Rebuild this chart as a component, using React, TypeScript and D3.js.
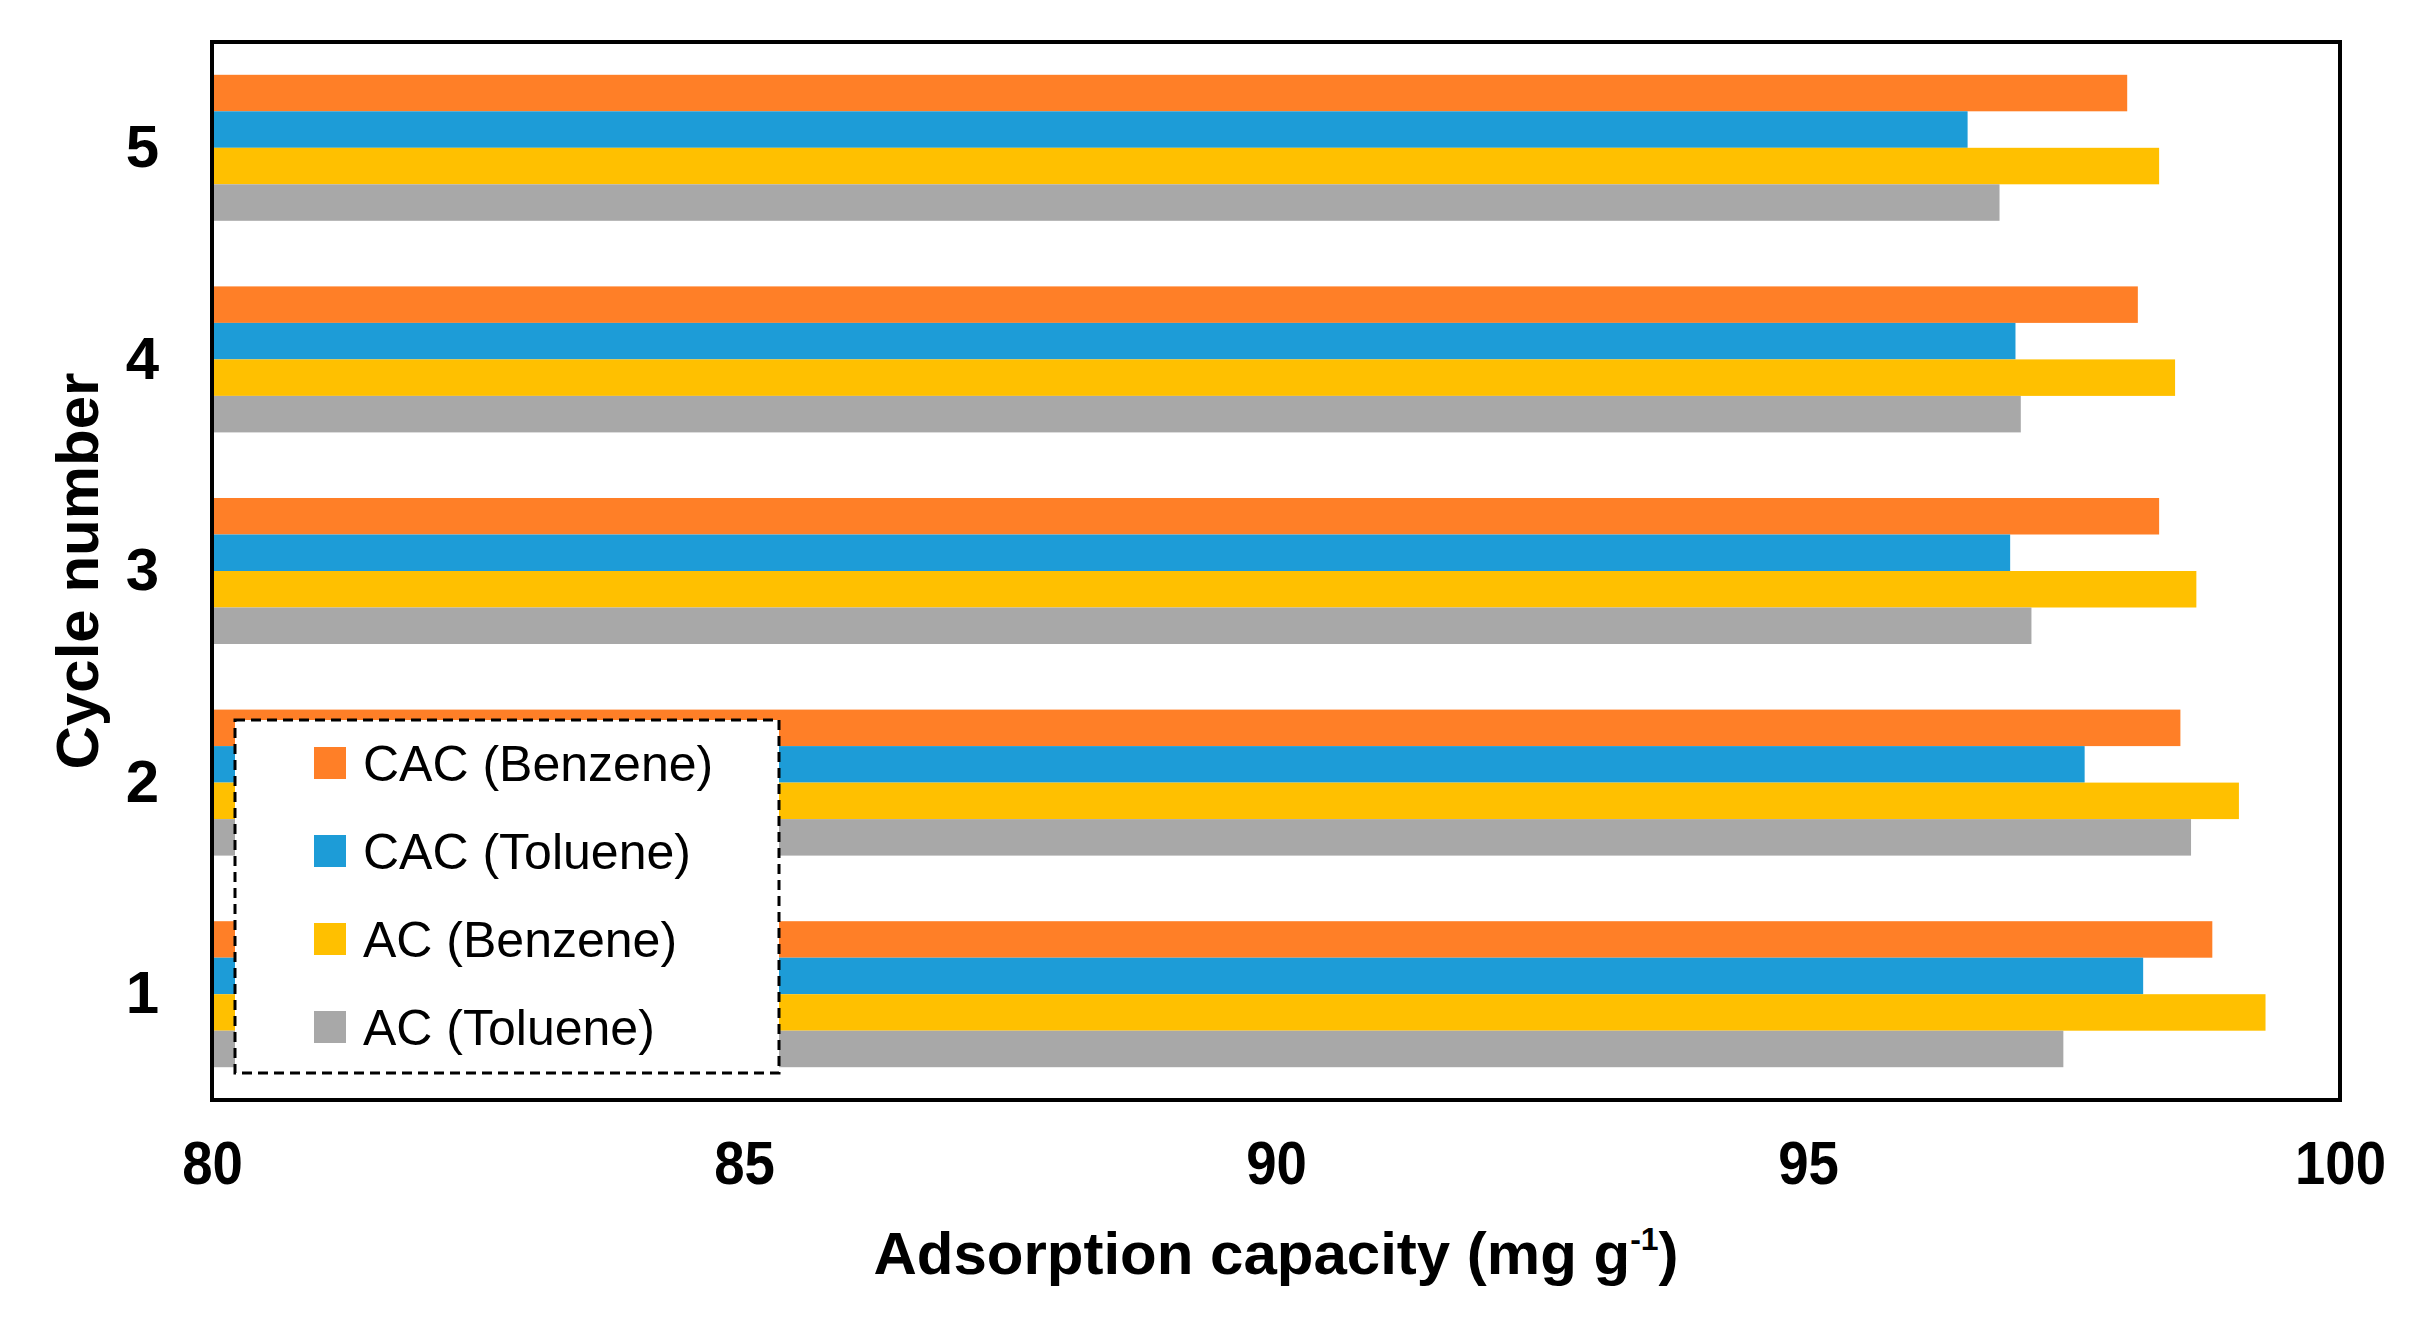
import React, { useEffect, useRef } from 'react';
import * as d3 from 'd3';

const cycles = ['5', '4', '3', '2', '1'];
const seriesNames = ['CAC (Benzene)', 'CAC (Toluene)', 'AC (Benzene)', 'AC (Toluene)'];
const seriesColors = ['#FF7F27', '#1D9CD7', '#FFC000', '#A8A8A8'];

// values listed for cycles 5..1
const cacBenzene = [98.0, 98.1, 98.3, 98.5, 98.8];
const cacToluene = [96.5, 96.95, 96.9, 97.6, 98.15];
const acBenzene = [98.3, 98.45, 98.65, 99.05, 99.3];
const acToluene = [96.8, 97.0, 97.1, 98.6, 97.4];

const xTicks = [80, 85, 90, 95, 100];

const App: React.FC = () => {
  const svgRef = useRef<SVGSVGElement>(null);

  useEffect(() => {
    if (!svgRef.current) return;
    const svg = d3.select(svgRef.current);
    svg.selectAll('*').remove();

    const W = 2426;
    const H = 1335;
    const margin = { top: 42, right: 86, bottom: 235, left: 212 };
    const width = W - margin.left - margin.right;
    const height = H - margin.top - margin.bottom;
    const font = '"Liberation Sans", Arial, sans-serif';

    const values = [cacBenzene, cacToluene, acBenzene, acToluene];

    const x = d3.scaleLinear().domain([80, 100]).range([0, width]);
    const y = d3.scaleBand<string>()
      .domain(cycles)
      .range([0, height])
      .paddingInner(0.31)
      .paddingOuter(0.155);
    const ySub = d3.scaleBand<number>()
      .domain(d3.range(seriesNames.length))
      .range([0, y.bandwidth()]);

    const g = svg.append('g').attr('transform', `translate(${margin.left},${margin.top})`);

    // bars
    cycles.forEach((c, ci) => {
      values.forEach((vals, si) => {
        g.append('rect')
          .attr('x', x(80))
          .attr('y', (y(c) || 0) + (ySub(si) || 0))
          .attr('width', x(vals[ci]) - x(80))
          .attr('height', ySub.bandwidth())
          .attr('fill', seriesColors[si]);
      });
    });

    // plot border
    g.append('rect')
      .attr('width', width)
      .attr('height', height)
      .attr('fill', 'none')
      .attr('stroke', '#000')
      .attr('stroke-width', 4);

    // x axis
    const xAxis = g.append('g')
      .attr('transform', `translate(0,${height})`)
      .call(d3.axisBottom(x).tickValues(xTicks).tickSize(0).tickPadding(40));
    xAxis.select('.domain').remove();
    xAxis.selectAll('text')
      .attr('font-family', font)
      .attr('font-weight', 'bold')
      .attr('font-size', 62)
      .attr('transform', 'scale(0.88,1)')
      .attr('fill', '#000');

    // y axis
    const yAxis = g.append('g')
      .call(d3.axisLeft(y).tickSize(0).tickPadding(53));
    yAxis.select('.domain').remove();
    yAxis.selectAll('text')
      .attr('font-family', font)
      .attr('font-weight', 'bold')
      .attr('font-size', 60)
      .attr('fill', '#000');

    // x title
    const xt = svg.append('text')
      .attr('x', margin.left + width / 2)
      .attr('y', 1274)
      .attr('text-anchor', 'middle')
      .attr('font-family', font)
      .attr('font-weight', 'bold')
      .attr('font-size', 60)
      .attr('fill', '#000');
    xt.append('tspan').text('Adsorption capacity (mg g');
    xt.append('tspan').attr('font-size', 32).attr('dy', -24).text('-1');
    xt.append('tspan').attr('dy', 24).text(')');

    // y title
    svg.append('text')
      .attr('transform', `translate(98,${margin.top + height / 2}) rotate(-90)`)
      .attr('text-anchor', 'middle')
      .attr('font-family', font)
      .attr('font-weight', 'bold')
      .attr('font-size', 60)
      .attr('fill', '#000')
      .text('Cycle number');

    // legend
    const lg = svg.append('g').attr('transform', 'translate(235,720)');
    lg.append('rect')
      .attr('width', 544)
      .attr('height', 353)
      .attr('fill', '#fff')
      .attr('stroke', '#000')
      .attr('stroke-width', 3)
      .attr('stroke-dasharray', '10,6');
    seriesNames.forEach((name, i) => {
      const cy = 43 + i * 88;
      lg.append('rect')
        .attr('x', 79)
        .attr('y', cy - 16)
        .attr('width', 32)
        .attr('height', 32)
        .attr('fill', seriesColors[i]);
      lg.append('text')
        .attr('x', 128)
        .attr('y', cy)
        .attr('dy', '0.36em')
        .attr('font-family', font)
        .attr('font-size', 50)
        .attr('fill', '#000')
        .text(name);
    });
  }, []);

  return (
    <svg
      ref={svgRef}
      width={2426}
      height={1335}
      style={{ position: 'absolute', top: 0, left: 0, background: '#fff' }}
    />
  );
};

export default App;
